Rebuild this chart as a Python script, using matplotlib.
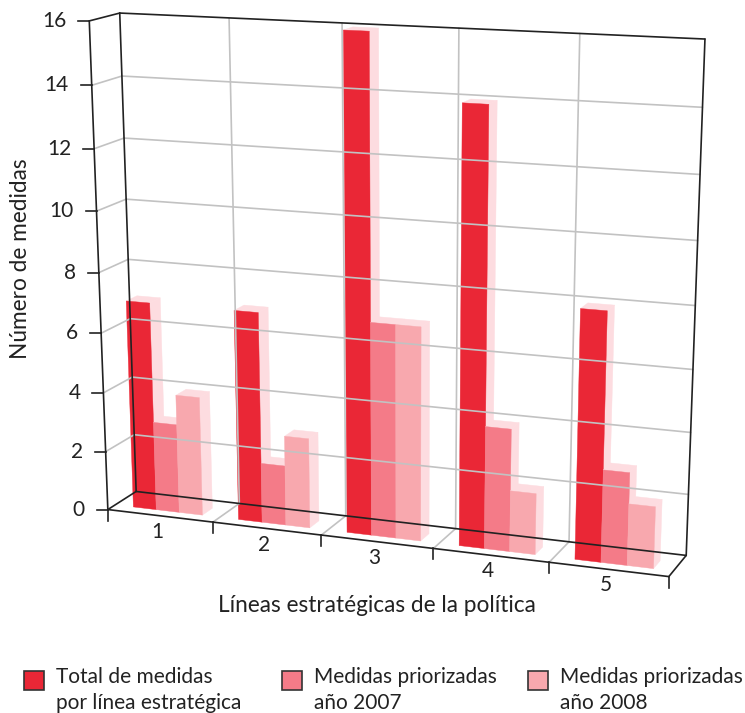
import numpy as np
import matplotlib
matplotlib.use('Agg')
import matplotlib.pyplot as plt
from matplotlib.patches import Polygon, Rectangle

categories = ['1', '2', '3', '4', '5']
total = [7, 7, 16, 14, 8]
medidas_2007 = [3, 2, 7, 4, 3]
medidas_2008 = [4, 3, 7, 2, 2]
y_ticks = [0, 2, 4, 6, 8, 10, 12, 14, 16]

series_names = ['Total de medidas\npor línea estratégica',
                'Medidas priorizadas\naño 2007',
                'Medidas priorizadas\naño 2008']
colors = ['#EA2736', '#F47B88', '#F8A8AE']
side_color = '#FDDCE0'
grid_color = '#C2C2C2'
dark = '#222222'

plt.rcParams['font.family'] = ['Lato', 'DejaVu Sans']


# the box corners as (category, depth, value) -> pixel, used to fit the camera
def fit_camera():
    box = [(0, 0, 0), (0, 0, 16), (0, 1, 16), (5, 1, 16), (5, 1, 0), (5, 0, 0), (0, 1, 0)]
    pix = [(107, 510), (90, 21), (119, 13), (705, 39), (686, 556), (669, 576), (137, 491)]
    rows = []
    for (x, y, z), (u, v) in zip(box, pix):
        rows.append([x, y, z, 1, 0, 0, 0, 0, -u * x, -u * y, -u * z, -u])
        rows.append([0, 0, 0, 0, x, y, z, 1, -v * x, -v * y, -v * z, -v])
    return np.linalg.svd(np.array(rows, float))[2][-1].reshape(3, 4)


P = fit_camera()


def project(x, y, z):
    p = P @ np.array([x, y, z, 1.0])
    return p[0] / p[2], p[1] / p[2]


def line3(ax, a, b, color, lw=1.2):
    pa, pb = project(*a), project(*b)
    ax.plot([pa[0], pb[0]], [pa[1], pb[1]], color=color, lw=lw, solid_capstyle='round')


def face(ax, pts, color):
    ax.add_patch(Polygon([project(*p) for p in pts], closed=True, fc=color, ec=color, lw=0.3))


def bar(ax, x0, x1, y0, y1, h, color):
    # side, top and then front, the view comes from the upper left
    face(ax, [(x1, y0, 0), (x1, y1, 0), (x1, y1, h), (x1, y0, h)], side_color)
    face(ax, [(x0, y0, h), (x1, y0, h), (x1, y1, h), (x0, y1, h)], side_color)
    face(ax, [(x0, y0, 0), (x1, y0, 0), (x1, y0, h), (x0, y0, h)], color)


fig = plt.figure(figsize=(7.45, 7.13), dpi=100)
ax = fig.add_axes([0, 0, 1, 1])
ax.set_xlim(0, 745)
ax.set_ylim(713, 0)
ax.axis('off')

n = len(categories)

# grid on the walls and the floor
for v in y_ticks[1:-1]:
    line3(ax, (0, 0, v), (0, 1, v), grid_color)
    line3(ax, (0, 1, v), (n, 1, v), grid_color)
for i in range(1, n):
    line3(ax, (i, 1, 0), (i, 1, 16), grid_color)
    line3(ax, (i, 0, 0), (i, 1, 0), grid_color)

# frame
line3(ax, (0, 0, 0), (0, 0, 16), dark)
line3(ax, (0, 0, 16), (0, 1, 16), dark)
line3(ax, (0, 1, 0), (0, 1, 16), dark)
line3(ax, (0, 1, 16), (n, 1, 16), dark)
line3(ax, (n, 1, 0), (n, 1, 16), dark)
line3(ax, (0, 1, 0), (n, 1, 0), dark)
line3(ax, (0, 0, 0), (0, 1, 0), dark)
line3(ax, (n, 0, 0), (n, 1, 0), dark)
line3(ax, (0, 0, 0), (n, 0, 0), dark)

# bars
bar_w = 0.22
gap = 0.175
for i in range(n):
    for j, vals in enumerate([total, medidas_2007, medidas_2008]):
        x0 = i + gap + j * bar_w
        bar(ax, x0, x0 + bar_w, 0.26, 0.63, vals[i], colors[j])

# value axis ticks and labels
for v in y_ticks:
    u, w = project(0, 0, v)
    ax.plot([u - 11, u], [w, w], color=dark, lw=1.2)
    ax.text(u - 23, w, str(v), ha='right', va='center', fontsize=15, color='#222222')

# category ticks and labels
for i in range(n + 1):
    u, w = project(i, 0, 0)
    ax.plot([u, u], [w, w + 11], color=dark, lw=1.2)
for i, c in enumerate(categories):
    u, w = project(i + 0.5, 0, 0)
    ax.text(u - 3, w + 16, c, ha='center', va='center', fontsize=15, color='#222222')

ax.text(377, 606, 'Líneas estratégicas de la política', ha='center', va='center',
        fontsize=16.3, color='#222222')
ax.text(21, 259, 'Número de medidas', ha='center', va='center', rotation=90,
        fontsize=16.3, color='#222222')

# legend
legend_x = [24, 282, 528]
for lx, name, col in zip(legend_x, series_names, colors):
    ax.add_patch(Rectangle((lx, 671), 20, 19, fc=col, ec='#333333', lw=1.2))
    ax.text(lx + 32, 690, name, ha='left', va='center', fontsize=15, color='#222222',
            linespacing=1.35)

fig.savefig('out.png', dpi=100)
